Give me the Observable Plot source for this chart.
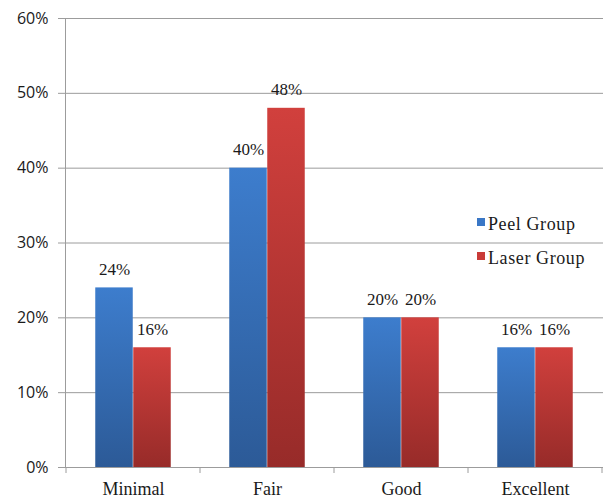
<!DOCTYPE html>
<html>
<head>
<meta charset="utf-8">
<script src="https://cdn.jsdelivr.net/npm/d3@7"></script>
<script src="https://cdn.jsdelivr.net/npm/@observablehq/plot@0.6"></script>
<style>
  body { margin: 0; background: #fff; }
  #chart { position: relative; width: 604px; height: 499px; }
  #chart svg { display: block; }
  .legend-item { position: absolute; font-family: "Liberation Serif", "Times New Roman", serif; font-size: 18px; line-height: 18px; color: #1a1a1a; letter-spacing: 0.6px; white-space: nowrap; }
  .legend-swatch { position: absolute; width: 8px; height: 8px; }
</style>
</head>
<body>
<div id="chart"></div>
<script>
// Outcome categories and the share of each group in them
const categories = ["Minimal", "Fair", "Good", "Excellent"];
const peelValues = [0.24, 0.40, 0.20, 0.16];
const laserValues = [0.16, 0.48, 0.20, 0.16];
const seriesNames = ["Peel Group", "Laser Group"];
const yTicks = [0, 0.1, 0.2, 0.3, 0.4, 0.5, 0.6];

const rows = categories.flatMap((c, i) => [
  {category: c, group: seriesNames[0], value: peelValues[i]},
  {category: c, group: seriesNames[1], value: laserValues[i]}
]);

const W = 604, H = 499;
const margin = {left: 65, right: 1, top: 18, bottom: 32};
const band = (W - margin.left - margin.right) / categories.length;
const barW = band * 0.2825;           // each bar's width within a category
const groupGap = (band - 2 * barW) / 2;

// vertical shading of the bars, light at the top, darker at the base
function gradients() {
  const ns = "http://www.w3.org/2000/svg";
  const defs = document.createElementNS(ns, "defs");
  const specs = [
    ["grad-peel", "#3d7dcd", "#2c5a97"],
    ["grad-laser", "#d1403d", "#972b29"]
  ];
  for (const [id, top, bottom] of specs) {
    const g = document.createElementNS(ns, "linearGradient");
    g.setAttribute("id", id);
    g.setAttribute("x1", "0"); g.setAttribute("y1", "0");
    g.setAttribute("x2", "0"); g.setAttribute("y2", "1");
    for (const [off, col] of [["0", top], ["1", bottom]]) {
      const s = document.createElementNS(ns, "stop");
      s.setAttribute("offset", off);
      s.setAttribute("stop-color", col);
      g.appendChild(s);
    }
    defs.appendChild(g);
  }
  return defs;
}

const peelRows = rows.filter(d => d.group === seriesNames[0]);
const laserRows = rows.filter(d => d.group === seriesNames[1]);
const pct = d3.format(".0%");
const serif = "'Liberation Serif', 'Times New Roman', serif";

const chart = Plot.plot({
  width: W,
  height: H,
  marginLeft: margin.left,
  marginRight: margin.right,
  marginTop: margin.top,
  marginBottom: margin.bottom,
  x: {domain: categories, padding: 0},
  y: {domain: [0, 0.6]},
  style: {background: "#fff", color: "#1a1a1a"},
  marks: [
    gradients,
    Plot.gridY(yTicks, {stroke: "#9c9c9c", strokeOpacity: 1}),
    Plot.frame({anchor: "left", stroke: "#9c9c9c"}),
    Plot.ruleY([0], {stroke: "#9c9c9c"}),
    Plot.barY(peelRows, {
      x: "category", y: "value", fill: "url(#grad-peel)",
      insetLeft: groupGap, insetRight: groupGap + barW
    }),
    Plot.barY(laserRows, {
      x: "category", y: "value", fill: "url(#grad-laser)",
      insetLeft: groupGap + barW, insetRight: groupGap
    }),
    Plot.text(peelRows, {
      x: "category", y: "value", text: d => pct(d.value),
      dx: -barW / 2, dy: -13, lineAnchor: "bottom",
      fontFamily: serif, fontSize: 17, fill: "#1a1a1a", letterSpacing: 0.6
    }),
    Plot.text(laserRows, {
      x: "category", y: "value", text: d => pct(d.value),
      dx: barW / 2, dy: -13, lineAnchor: "bottom",
      fontFamily: serif, fontSize: 17, fill: "#1a1a1a", letterSpacing: 0.6
    }),
    Plot.axisY({
      ticks: yTicks, tickFormat: pct, tickSize: 7, tickPadding: 10,
      stroke: "#9c9c9c", fill: "#1a1a1a",
      fontFamily: "'Open Sans', sans-serif", fontSize: 16, label: null
    }),
    Plot.axisX({
      tickSize: 0, tickPadding: 15, fill: "#1a1a1a",
      fontFamily: serif, fontSize: 18, label: null, letterSpacing: 0.6
    })
  ]
});

// short category separator ticks below the baseline, placed with the x scale
(function addSeparators() {
  const x = chart.scale("x");
  const y = chart.scale("y");
  const y0 = y.apply(0);
  const xs = categories.map(c => x.apply(c));
  xs.push(xs[xs.length - 1] + x.bandwidth);
  d3.select(chart).append("g")
    .attr("stroke", "#9c9c9c")
    .selectAll("line")
    .data(xs)
    .join("line")
    .attr("x1", d => d).attr("x2", d => d)
    .attr("y1", y0).attr("y2", y0 + 6);
})();

const host = document.getElementById("chart");
host.appendChild(chart);

// legend placed inside the plot area on the right
const swatchFills = ["#3a77c6", "#c93b38"];
const legendTops = [218, 252];
seriesNames.forEach((name, i) => {
  const sw = document.createElement("div");
  sw.className = "legend-swatch";
  sw.style.left = "477px";
  sw.style.top = legendTops[i] + "px";
  sw.style.background = swatchFills[i];
  host.appendChild(sw);
  const label = document.createElement("div");
  label.className = "legend-item";
  label.style.left = "488px";
  label.style.top = (legendTops[i] - 3) + "px";
  label.textContent = name;
  host.appendChild(label);
});
</script>
</body>
</html>
